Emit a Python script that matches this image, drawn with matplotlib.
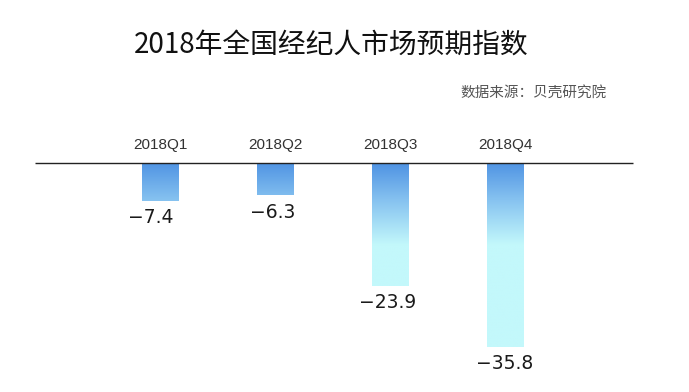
import numpy as np
import matplotlib
matplotlib.use('Agg')
import matplotlib.pyplot as plt
from matplotlib.colors import LinearSegmentedColormap
from matplotlib.patches import Rectangle

plt.rcParams['font.family'] = ['Noto Sans CJK SC', 'DejaVu Sans']

# ==================== Data ====================
quarters = ['2018Q1', '2018Q2', '2018Q3', '2018Q4']
values = [-7.4, -6.3, -23.9, -35.8]
title = '2018年全国经纪人市场预期指数'
source = '数据来源：贝壳研究院'

# small horizontal nudges of the value labels (pixels), as in the original
label_dx = [-9, -3, -3, -1]

# ==================== Figure ====================
fig = plt.figure(figsize=(6.89, 3.92), dpi=100)
ax = fig.add_axes([0, 0, 1, 1])
ax.set_xlim(-1.388, 4.588)
ax.set_ylim(-44.55, 31.71)
ax.axis('off')

cmap = LinearSegmentedColormap.from_list(
    'bk', [(0.0, '#4f93e3'), (0.45, '#86c2f0'), (1.0, '#c3f8fb')])
grad_depth = 16.0  # gradient reaches pale cyan about this far below zero
width = 0.32

x = np.arange(len(quarters))
for xi, v, q, dx in zip(x, values, quarters, label_dx):
    n = 300
    ys = np.linspace(0, v, n)
    frac = np.clip(-ys / grad_depth, 0, 1)[:, None]
    img = ax.imshow(frac, cmap=cmap, vmin=0, vmax=1, aspect='auto',
                    extent=(xi - width / 2, xi + width / 2, v, 0),
                    origin='upper', interpolation='bilinear', zorder=2)
    rect = Rectangle((xi - width / 2, v), width, -v, transform=ax.transData,
                     facecolor='none', edgecolor='none')
    ax.add_patch(rect)
    img.set_clip_path(rect)

    ax.annotate(f'\u2212{abs(v):.1f}', (xi, v), xytext=(dx * 0.72, -12),
                textcoords='offset points', ha='center', va='center',
                fontsize=13.5, color='#1a1a1a', family=['DejaVu Sans'])
    ax.text(xi, 3.5, q, ha='center', va='center', fontsize=11,
            color='#333333', family=['Liberation Sans', 'DejaVu Sans'])

ax.hlines(0, -1.084, 4.102, color='#222222', linewidth=1.0, zorder=3)

fig.text(0.481, 0.885, title, ha='center', va='center', fontsize=20,
         color='#111111')
fig.text(0.881, 0.763, source, ha='right', va='center', fontsize=10.5,
         color='#555555')

fig.savefig('out.png', dpi=100)
